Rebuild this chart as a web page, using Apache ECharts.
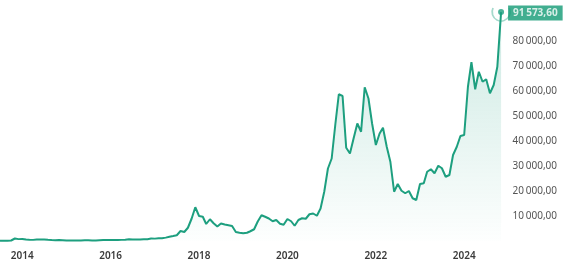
<!DOCTYPE html>
<html>
<head>
<meta charset="utf-8">
<script src="https://cdn.jsdelivr.net/npm/echarts@6/dist/echarts.min.js"></script>
<style>
html,body{margin:0;padding:0;background:#fff;}
#chart{width:570px;height:271px;}
</style>
</head>
<body>
<div id="chart"></div>
<script>
// Monthly values (month start dates), Jul 2013 .. Nov 2024
const startYear = 2013, startMonth = 6; // July 2013 (0-based month)
const v2013 = [95, 130, 140, 200, 1000, 750];
const v2014 = [800, 560, 460, 450, 620, 640, 590, 480, 390, 340, 380, 320];
const v2015 = [220, 250, 245, 235, 230, 265, 285, 230, 235, 310, 380, 430];
const v2016 = [370, 435, 415, 450, 530, 670, 620, 575, 610, 700, 740, 960];
const v2017 = [950, 1100, 1100, 1350, 1700, 2000, 2300, 4000, 3600, 5300, 9000, 13500];
const v2018 = [10000, 9700, 6800, 8700, 7100, 5800, 7000, 6600, 6300, 6000, 3600, 3300];
const v2019 = [3100, 3300, 3900, 4700, 7800, 10300, 9700, 9000, 7900, 8400, 6900, 6500];
const v2020 = [8800, 7900, 6100, 8400, 9100, 8900, 10700, 11000, 10100, 13000, 19800, 29000];
const v2021 = [33000, 47000, 58700, 58000, 37300, 35000, 41000, 47000, 43700, 61500, 57000, 47000];
const v2022 = [38400, 43000, 45300, 37700, 31700, 19700, 22800, 20100, 19100, 20000, 17100, 16400];
const v2023 = [22800, 23100, 27700, 28700, 27100, 30100, 29100, 25700, 26400, 34400, 37700, 42000];
const v2024 = [42400, 61700, 71500, 60700, 67700, 63700, 64700, 59100, 62400, 69700, 91573.6];
const yearLabels = [2014, 2016, 2018, 2020, 2022, 2024];
const yTickLabels = [10000, 20000, 30000, 40000, 50000, 60000, 70000, 80000];

const allValues = [].concat(v2013, v2014, v2015, v2016, v2017, v2018, v2019, v2020, v2021, v2022, v2023, v2024);
const seriesData = allValues.map((v, i) => [Date.UTC(startYear, startMonth + i, 1), v]);
const lastPoint = seriesData[seriesData.length - 1];

const green = '#1d9f7f';
function fmt(v) {
  const parts = v.toFixed(2).split('.');
  const int = parts[0].replace(/\B(?=(\d{3})+(?!\d))/g, '\u202f');
  return int + ',' + parts[1];
}

const chart = echarts.init(document.getElementById('chart'), null, {renderer: 'canvas'});
chart.setOption({
  animation: false,
  grid: {left: 0, right: 55, top: 8, bottom: 30, containLabel: false},
  xAxis: {
    type: 'value',
    min: Date.UTC(2013, 6, 1),
    max: Date.UTC(2025, 1, 24),
    axisLine: {show: false},
    axisTick: {show: false},
    splitLine: {show: false},
    axisLabel: {
      customValues: yearLabels.map(y => Date.UTC(y, 0, 1)),
      formatter: (val) => String(new Date(val).getUTCFullYear()),
      color: '#3a3a3a',
      fontSize: 10,
      fontWeight: 600,
      fontFamily: 'Noto Sans',
      margin: 10
    }
  },
  yAxis: {
    type: 'value',
    position: 'right',
    min: 0,
    max: 93200,
    interval: 10000,
    axisLine: {show: false},
    axisTick: {show: false},
    splitLine: {show: false},
    axisLabel: {
      align: 'right',
      margin: 42,
      color: '#555',
      fontSize: 10,
      fontFamily: 'Noto Sans',
      showMaxLabel: false,
      formatter: (v) => yTickLabels.indexOf(v) >= 0 ? fmt(v) : ''
    }
  },
  series: [
    {
      type: 'line',
      data: seriesData,
      showSymbol: false,
      lineStyle: {color: green, width: 2},
      itemStyle: {color: green},
      areaStyle: {
        color: new echarts.graphic.LinearGradient(0, 0, 0, 1, [
          {offset: 0, color: 'rgba(29,159,127,0.32)'},
          {offset: 1, color: 'rgba(29,159,127,0.01)'}
        ])
      }
    },
    {
      type: 'scatter',
      data: [lastPoint],
      symbol: 'path://M0.94,5 A9,9 0 1,0 17.06,5',
      symbolSize: [18, 13],
      symbolOffset: [0, 2.5],
      symbolKeepAspect: false,
      clip: false,
      itemStyle: {color: 'none', borderColor: 'rgba(29,159,127,0.5)', borderWidth: 1.5},
      z: 3
    },
    {
      type: 'scatter',
      data: [lastPoint],
      symbolSize: 6,
      clip: false,
      itemStyle: {color: green},
      z: 4,
      label: {
        show: true,
        position: 'right',
        distance: 4,
        formatter: (p) => fmt(p.value[1]),
        backgroundColor: '#129a74',
        color: '#fff',
        fontWeight: 'bold',
        fontSize: 10,
        fontFamily: 'Noto Sans',
        padding: [3, 5, 2, 5],
        offset: [0, 1]
      }
    }
  ]
});
</script>
</body>
</html>
